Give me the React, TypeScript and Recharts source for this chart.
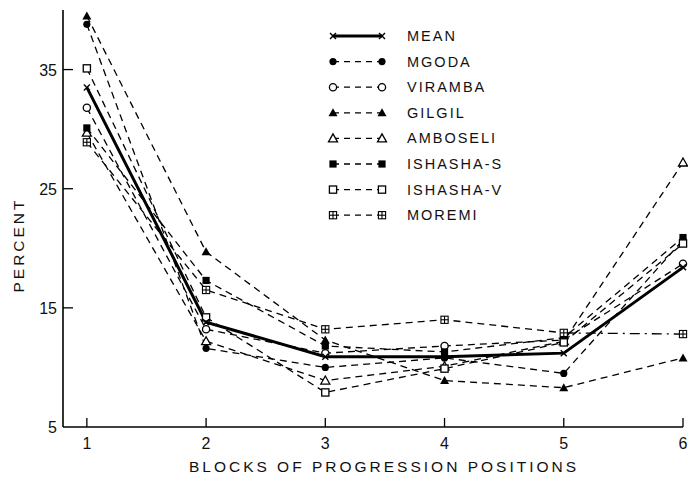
import React from "react";
import { Legend, Line, LineChart, XAxis, YAxis } from "recharts";

// block positions 1..6
const positions = [1, 2, 3, 4, 5, 6];
const yTicks = [5, 15, 25, 35];

const mean = [33.5, 13.8, 10.9, 10.9, 11.2, 18.4];
const mgoda = [38.8, 11.6, 10.0, 10.8, 9.5, 20.7];
const viramba = [31.8, 13.2, 11.2, 11.8, 12.3, 18.7];
const gilgil = [39.5, 19.7, 12.3, 8.9, 8.3, 10.8];
const amboseli = [29.7, 12.2, 8.9, 10.1, 12.2, 27.2];
const ishashaS = [30.1, 17.3, 11.8, 11.3, 12.5, 20.9];
const ishashaV = [35.1, 14.2, 7.9, 9.9, 12.1, 20.4];
const moremi = [28.9, 16.5, 13.2, 14.0, 12.9, 12.8];

const FONT = "'Liberation Sans', Arial, sans-serif";
const DASH = "7 5";

type Kind = "x" | "dot" | "circle" | "tri" | "triOpen" | "sq" | "sqOpen" | "sqGrid";

const series: { key: string; name: string; kind: Kind; values: number[] }[] = [
  { key: "mgoda", name: "MGODA", kind: "dot", values: mgoda },
  { key: "viramba", name: "VIRAMBA", kind: "circle", values: viramba },
  { key: "gilgil", name: "GILGIL", kind: "tri", values: gilgil },
  { key: "amboseli", name: "AMBOSELI", kind: "triOpen", values: amboseli },
  { key: "ishashaS", name: "ISHASHA-S", kind: "sq", values: ishashaS },
  { key: "ishashaV", name: "ISHASHA-V", kind: "sqOpen", values: ishashaV },
];

const legendRows: { name: string; kind: Kind; solid?: boolean }[] = [
  { name: "MEAN", kind: "x", solid: true },
  ...series.map((s) => ({ name: s.name, kind: s.kind })),
  { name: "MOREMI", kind: "sqGrid" },
];

const data = positions.map((p, i) => {
  const row: Record<string, number | null> = { pos: p, mean: mean[i] };
  series.forEach((s) => (row[s.key] = s.values[i]));
  row.moremi = i < 5 ? moremi[i] : null;
  row.moremiTail = i >= 4 ? moremi[i] : null;
  return row;
});

function Marker({ kind, x, y }: { kind: Kind; x: number; y: number }) {
  const s = 3.6;
  const sw = 1.3;
  switch (kind) {
    case "x":
      return (
        <g stroke="#000" strokeWidth={1.4}>
          <line x1={x - 3} y1={y - 3} x2={x + 3} y2={y + 3} />
          <line x1={x - 3} y1={y + 3} x2={x + 3} y2={y - 3} />
        </g>
      );
    case "dot":
      return <circle cx={x} cy={y} r={s} fill="#000" />;
    case "circle":
      return <circle cx={x} cy={y} r={s} fill="#fff" stroke="#000" strokeWidth={sw} />;
    case "tri":
      return <polygon points={`${x},${y - 4.5} ${x - 4.5},${y + 3.5} ${x + 4.5},${y + 3.5}`} fill="#000" />;
    case "triOpen":
      return (
        <polygon
          points={`${x},${y - 4.5} ${x - 4.5},${y + 3.5} ${x + 4.5},${y + 3.5}`}
          fill="#fff"
          stroke="#000"
          strokeWidth={sw}
        />
      );
    case "sq":
      return <rect x={x - s} y={y - s} width={s * 2} height={s * 2} fill="#000" />;
    case "sqOpen":
      return <rect x={x - s} y={y - s} width={s * 2} height={s * 2} fill="#fff" stroke="#000" strokeWidth={sw} />;
    case "sqGrid":
      return (
        <g stroke="#000" strokeWidth={1.1}>
          <rect x={x - s} y={y - s} width={s * 2} height={s * 2} fill="#fff" />
          <line x1={x - s} y1={y} x2={x + s} y2={y} />
          <line x1={x} y1={y - s} x2={x} y2={y + s} />
        </g>
      );
  }
  return null;
}

const dotFor = (kind: Kind, skip?: number[]) => (props: any) => {
  const { cx, cy, index } = props;
  if (cx == null || cy == null || (skip && skip.includes(index))) return <g key={`d${index}`} />;
  return (
    <g key={`d${index}`}>
      <Marker kind={kind} x={cx} y={cy} />
    </g>
  );
};

const YTick = (props: any) => {
  const { x, y, payload } = props;
  return (
    <g>
      <text x={x} y={y + 6} textAnchor="end" fontFamily={FONT} fontSize={16} fill="#111">
        {payload.value}
      </text>
      {payload.value !== 5 && <line x1={x + 6} x2={x + 16} y1={y} y2={y} stroke="#000" strokeWidth={1.3} />}
    </g>
  );
};

const XTick = (props: any) => {
  const { x, y, payload } = props;
  return (
    <g>
      <line x1={x} x2={x} y1={y - 10} y2={y - 19} stroke="#000" strokeWidth={1.3} />
      <text x={x} y={y + 12} textAnchor="middle" fontFamily={FONT} fontSize={16} fill="#111">
        {payload.value}
      </text>
    </g>
  );
};

const renderLegend = () => (
  <svg width={200} height={210}>
    {legendRows.map((r, i) => {
      const y = 12 + i * 25.6;
      return (
        <g key={r.name}>
          <line
            x1={8}
            x2={57}
            y1={y}
            y2={y}
            stroke="#000"
            strokeWidth={r.solid ? 3 : 1.3}
            strokeDasharray={r.solid ? undefined : "6 5"}
          />
          <Marker kind={r.kind} x={8} y={y} />
          <Marker kind={r.kind} x={57} y={y} />
          <text x={82} y={y + 5} fontFamily={FONT} fontSize={14.5} letterSpacing={2} fill="#111">
            {r.name}
          </text>
        </g>
      );
    })}
  </svg>
);

export default function App() {
  return (
    <div style={{ position: "absolute", left: 0, top: 0, width: 688, height: 483, background: "#fff" }}>
      <LineChart width={688} height={483} data={data} margin={{ top: 10, right: 5, left: 0, bottom: 0 }}>
        <XAxis
          dataKey="pos"
          type="number"
          domain={[0.8, 6]}
          ticks={positions}
          height={56}
          tickSize={0}
          tickMargin={10}
          tickLine={false}
          tick={<XTick />}
          axisLine={{ stroke: "#000", strokeWidth: 1.6 }}
          label={() => (
            <text x={384} y={472} textAnchor="middle" fontFamily={FONT} fontSize={15.5} letterSpacing={3} fill="#111">
              BLOCKS OF PROGRESSION POSITIONS
            </text>
          )}
        />
        <YAxis
          type="number"
          domain={[5, 40]}
          ticks={yTicks}
          width={63}
          tickSize={0}
          tickMargin={6}
          tickLine={false}
          tick={<YTick />}
          axisLine={{ stroke: "#000", strokeWidth: 1.6 }}
          label={() => (
            <text
              x={24}
              y={245}
              transform="rotate(-90 24 245)"
              textAnchor="middle"
              fontFamily={FONT}
              fontSize={15.5}
              letterSpacing={3}
              fill="#111"
            >
              PERCENT
            </text>
          )}
        />
        <Legend
          layout="vertical"
          align="center"
          verticalAlign="middle"
          content={renderLegend}
          wrapperStyle={{ left: 325, top: 24, width: 200, height: 210 }}
        />
        {series.map((s) => (
          <Line
            key={s.key}
            dataKey={s.key}
            name={s.name}
            stroke="#000"
            strokeWidth={1.3}
            strokeDasharray={DASH}
            dot={dotFor(s.kind)}
            activeDot={false}
            isAnimationActive={false}
          />
        ))}
        <Line
          dataKey="moremi"
          name="MOREMI"
          stroke="#000"
          strokeWidth={1.3}
          strokeDasharray={DASH}
          dot={dotFor("sqGrid")}
          activeDot={false}
          isAnimationActive={false}
        />
        <Line
          dataKey="moremiTail"
          legendType="none"
          stroke="#000"
          strokeWidth={1.3}
          strokeDasharray="10 5 2 5"
          dot={dotFor("sqGrid", [4])}
          activeDot={false}
          isAnimationActive={false}
        />
        <Line
          dataKey="mean"
          name="MEAN"
          stroke="#000"
          strokeWidth={3}
          dot={dotFor("x")}
          activeDot={false}
          isAnimationActive={false}
        />
      </LineChart>
    </div>
  );
}
